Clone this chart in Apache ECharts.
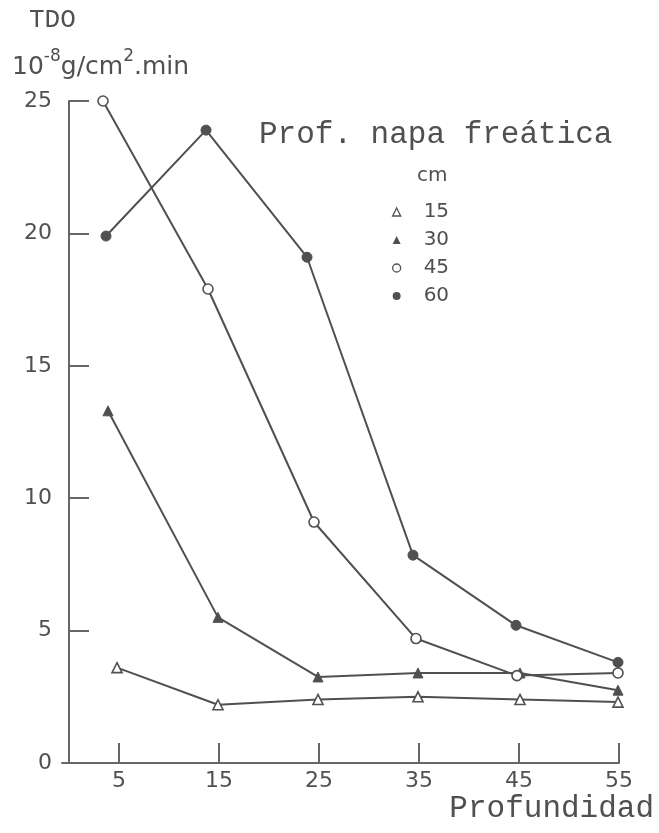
<!DOCTYPE html>
<html>
<head>
<meta charset="utf-8">
<script src="https://cdn.jsdelivr.net/npm/echarts@6/dist/echarts.min.js"></script>
<style>
  html, body { margin: 0; padding: 0; background: #ffffff; }
  #chart { width: 659px; height: 833px; }
</style>
</head>
<body>
<div id="chart"></div>
<script>
// Depth of the sampled layer (cm) and TDO (10^-8 g/cm2.min) for each water-table depth
const depthTicks = [5, 15, 25, 35, 45, 55];

const x15 = [4.8, 14.9, 24.9, 34.9, 45.1, 54.9];
const y15 = [3.6, 2.2, 2.4, 2.5, 2.4, 2.3];

const x30 = [3.9, 14.9, 24.9, 34.9, 45.1, 54.9];
const y30 = [13.3, 5.5, 3.25, 3.4, 3.4, 2.75];

const x45 = [3.4, 13.9, 24.5, 34.7, 44.8, 54.9];
const y45 = [25.0, 17.9, 9.1, 4.7, 3.3, 3.4];

const x60 = [3.7, 13.7, 23.8, 34.4, 44.7, 54.9];
const y60 = [19.9, 23.9, 19.1, 7.85, 5.2, 3.8];

const seriesNames = ['15', '30', '45', '60'];

const INK = '#505050';
const AXIS = '#666666';
const pairs = (xs, ys) => xs.map((x, i) => [x, ys[i]]);

const openStyle = { color: '#ffffff', borderColor: INK, borderWidth: 1.6 };
const fillStyle = { color: INK, borderColor: INK, borderWidth: 1 };

function makeSeries(name, xs, ys, symbol, style, size) {
  return {
    name: name,
    type: 'line',
    data: pairs(xs, ys),
    symbol: symbol,
    symbolSize: size,
    showAllSymbol: true,
    lineStyle: { color: INK, width: 2 },
    itemStyle: style,
    emphasis: { disabled: true },
    z: 3
  };
}

const chart = echarts.init(document.getElementById('chart'), null, { renderer: 'canvas' });

chart.setOption({
  backgroundColor: '#ffffff',
  animation: false,
  grid: { left: 62, right: 40, top: 101, bottom: 70, containLabel: false },
  xAxis: {
    type: 'value',
    min: -0.7,
    max: 55,
    axisLine: { show: true, onZero: false, lineStyle: { color: AXIS, width: 2 } },
    axisTick: {
      show: true, inside: true, length: 20, customValues: depthTicks,
      lineStyle: { color: AXIS, width: 2 }
    },
    axisLabel: {
      customValues: depthTicks, margin: 7,
      fontFamily: 'DejaVu Sans', fontSize: 22, color: INK
    },
    splitLine: { show: false }
  },
  yAxis: {
    type: 'value',
    min: 0,
    max: 25,
    interval: 5,
    axisLine: { show: true, lineStyle: { color: AXIS, width: 2 } },
    axisTick: { show: true, inside: true, length: 20, lineStyle: { color: AXIS, width: 2 } },
    axisLabel: { margin: 10, fontFamily: 'DejaVu Sans', fontSize: 22, color: INK },
    splitLine: { show: false }
  },
  legend: {
    orient: 'vertical',
    left: 387,
    top: 197,
    itemWidth: 8,
    itemHeight: 8,
    itemGap: 8,
    selectedMode: false,
    textStyle: {
      fontFamily: 'DejaVu Sans', fontSize: 20, lineHeight: 20,
      color: INK, padding: [0, 0, 0, 18]
    },
    data: [
      { name: '15', icon: 'triangle', itemStyle: { color: '#ffffff', borderColor: INK, borderWidth: 1.3 } },
      { name: '30', icon: 'triangle', itemStyle: { color: INK, borderColor: INK, borderWidth: 0 } },
      { name: '45', icon: 'circle', itemStyle: { color: '#ffffff', borderColor: INK, borderWidth: 1.3 } },
      { name: '60', icon: 'circle', itemStyle: { color: INK, borderColor: INK, borderWidth: 0 } }
    ]
  },
  graphic: [
    {
      type: 'text', left: 29, top: 7,
      style: { text: 'TDO', font: '26px "Liberation Mono"', fill: INK }
    },
    {
      type: 'text', left: 12, top: 48,
      style: {
        text: '{n|10}{s|-8}{n|g/cm}{s|2}{n|.min}',
        rich: {
          n: { fontFamily: 'DejaVu Sans', fontSize: 25, fill: INK, color: INK, verticalAlign: 'bottom', lineHeight: 32 },
          s: { fontFamily: 'DejaVu Sans', fontSize: 17, fill: INK, color: INK, verticalAlign: 'top', lineHeight: 32 }
        }
      }
    },
    {
      type: 'text', left: 259, top: 119,
      style: { text: 'Prof. napa freática', font: '31px "Liberation Mono"', fill: INK }
    },
    {
      type: 'text', left: 417, top: 166,
      style: { text: 'cm', font: '20px "DejaVu Sans"', fill: INK }
    },
    {
      type: 'text', right: 5, top: 793,
      style: { text: 'Profundidad', font: '31px "Liberation Mono"', fill: INK }
    }
  ],
  series: [
    makeSeries(seriesNames[0], x15, y15, 'triangle', openStyle, 10),
    makeSeries(seriesNames[1], x30, y30, 'triangle', fillStyle, 10),
    makeSeries(seriesNames[2], x45, y45, 'circle', openStyle, 10),
    makeSeries(seriesNames[3], x60, y60, 'circle', fillStyle, 10)
  ]
});
</script>
</body>
</html>
